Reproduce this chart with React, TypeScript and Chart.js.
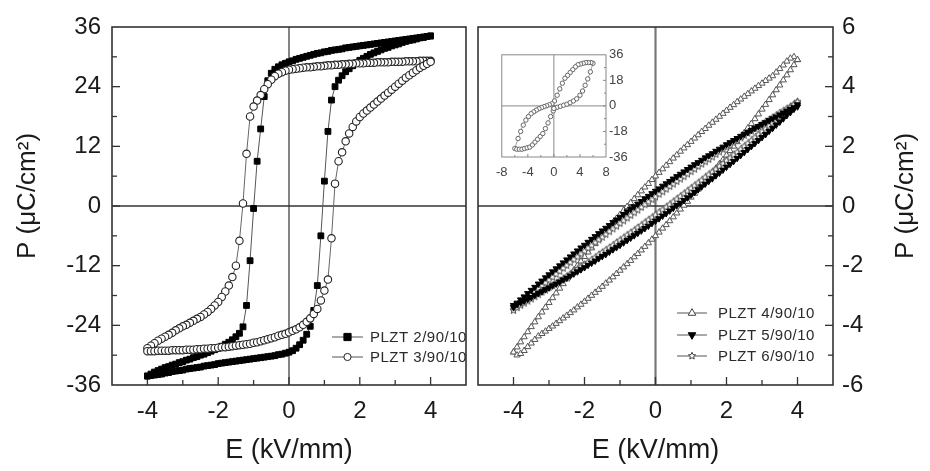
import React, { useEffect, useRef } from 'react';
import { Chart, registerables } from 'chart.js';

Chart.register(...registerables);

const FONT = '"Liberation Sans", Arial, Helvetica, sans-serif';
const INK = '#1a1a1a';

// ---------- shared field sweeps (kV/mm) ----------
const E_DOWN = [4.0, 3.9, 3.8, 3.7, 3.6, 3.5, 3.4, 3.3, 3.2, 3.1,
  3.0, 2.9, 2.8, 2.7, 2.6, 2.5, 2.4, 2.3, 2.2, 2.1,
  2.0, 1.9, 1.8, 1.7, 1.6, 1.5, 1.4, 1.3, 1.2, 1.1,
  1.0, 0.9, 0.8, 0.7, 0.6, 0.5, 0.4, 0.3, 0.2, 0.1,
  0.0, -0.1, -0.2, -0.3, -0.4, -0.5, -0.6, -0.7, -0.8, -0.9,
  -1.0, -1.1, -1.2, -1.3, -1.4, -1.5, -1.6, -1.7, -1.8, -1.9,
  -2.0, -2.1, -2.2, -2.3, -2.4, -2.5, -2.6, -2.7, -2.8, -2.9,
  -3.0, -3.1, -3.2, -3.3, -3.4, -3.5, -3.6, -3.7, -3.8, -3.9,
  -4.0];
const E_UP = [-4.0, -3.9, -3.8, -3.7, -3.6, -3.5, -3.4, -3.3, -3.2, -3.1,
  -3.0, -2.9, -2.8, -2.7, -2.6, -2.5, -2.4, -2.3, -2.2, -2.1,
  -2.0, -1.9, -1.8, -1.7, -1.6, -1.5, -1.4, -1.3, -1.2, -1.1,
  -1.0, -0.9, -0.8, -0.7, -0.6, -0.5, -0.4, -0.3, -0.2, -0.1,
  0.0, 0.1, 0.2, 0.3, 0.4, 0.5, 0.6, 0.7, 0.8, 0.9,
  1.0, 1.1, 1.2, 1.3, 1.4, 1.5, 1.6, 1.7, 1.8, 1.9,
  2.0, 2.1, 2.2, 2.3, 2.4, 2.5, 2.6, 2.7, 2.8, 2.9,
  3.0, 3.1, 3.2, 3.3, 3.4, 3.5, 3.6, 3.7, 3.8, 3.9,
  4.0];

// ---------- left panel: P (uC/cm2) ----------
const PLZT2_DOWN = [34.2, 34.1, 34.0, 33.9, 33.8, 33.7, 33.6, 33.5, 33.4, 33.3,
  33.2, 33.1, 33.0, 32.9, 32.8, 32.7, 32.6, 32.5, 32.4, 32.3,
  32.2, 32.1, 32.0, 31.9, 31.8, 31.6, 31.5, 31.4, 31.3, 31.1,
  31.0, 30.8, 30.7, 30.5, 30.3, 30.1, 29.9, 29.7, 29.5, 29.2,
  29.0, 28.7, 28.4, 28.0, 27.5, 26.7, 25.2, 22.0, 15.5, 9.0,
  -0.5, -11.0, -20.0, -24.3, -25.6, -26.3, -26.9, -27.4, -27.8, -28.2,
  -28.6, -28.9, -29.2, -29.5, -29.8, -30.0, -30.3, -30.5, -30.8, -31.0,
  -31.3, -31.5, -31.8, -32.0, -32.3, -32.5, -32.8, -33.1, -33.4, -33.8,
  -34.2];
const PLZT2_UP = [-34.2, -34.1, -34.0, -33.9, -33.8, -33.6, -33.5, -33.3, -33.2, -33.1,
  -33.0, -32.8, -32.7, -32.6, -32.5, -32.4, -32.2, -32.1, -32.0, -31.9,
  -31.7, -31.6, -31.5, -31.4, -31.3, -31.2, -31.1, -31.0, -30.9, -30.8,
  -30.7, -30.6, -30.5, -30.4, -30.3, -30.2, -30.1, -29.9, -29.8, -29.6,
  -29.4, -29.1, -28.6, -27.9, -27.0, -25.8, -24.2, -21.0, -16.0, -6.0,
  5.0, 15.0, 21.3, 24.0, 25.3, 26.2, 27.0, 27.6, 28.2, 28.8,
  29.3, 29.7, 30.1, 30.5, 30.8, 31.1, 31.4, 31.7, 31.9, 32.2,
  32.4, 32.6, 32.9, 33.1, 33.3, 33.4, 33.6, 33.8, 33.9, 34.1,
  34.2];
const PLZT3_DOWN = [29.2, 29.2, 29.2, 29.2, 29.1, 29.1, 29.1, 29.1, 29.0, 29.0,
  29.0, 29.0, 28.9, 28.9, 28.9, 28.9, 28.8, 28.8, 28.8, 28.7,
  28.7, 28.7, 28.6, 28.6, 28.5, 28.5, 28.4, 28.4, 28.3, 28.3,
  28.2, 28.1, 28.1, 28.0, 27.9, 27.9, 27.8, 27.7, 27.6, 27.5,
  27.4, 27.2, 26.9, 26.6, 26.1, 25.4, 24.5, 23.5, 22.3, 21.2,
  20.0, 18.0, 10.5, 0.5, -7.0, -12.0, -14.3, -16.0, -17.2, -18.3,
  -19.3, -20.0, -20.7, -21.3, -21.8, -22.3, -22.7, -23.1, -23.5, -23.9,
  -24.2, -24.6, -25.0, -25.5, -25.9, -26.3, -26.7, -27.1, -27.6, -28.1,
  -28.6];
const PLZT3_UP = [-29.2, -29.2, -29.2, -29.1, -29.1, -29.1, -29.1, -29.0, -29.0, -29.0,
  -29.0, -28.9, -28.9, -28.9, -28.8, -28.8, -28.7, -28.7, -28.6, -28.6,
  -28.5, -28.4, -28.4, -28.3, -28.2, -28.1, -28.0, -27.9, -27.8, -27.7,
  -27.5, -27.4, -27.2, -27.0, -26.8, -26.6, -26.4, -26.1, -25.9, -25.7,
  -25.4, -25.1, -24.8, -24.4, -23.9, -23.3, -22.6, -21.7, -20.7, -19.0,
  -17.0, -14.8, -6.5, 4.5, 9.0, 10.8, 13.0, 14.6, 15.9, 17.0,
  17.9, 18.6, 19.2, 19.8, 20.4, 21.0, 21.6, 22.2, 22.8, 23.4,
  24.0, 24.6, 25.2, 25.8, 26.3, 26.8, 27.3, 27.8, 28.2, 28.6,
  29.0];

// ---------- right panel: P (uC/cm2) ----------
const PLZT4_DOWN = [4.90, 5.00, 4.95, 4.85, 4.72, 4.60, 4.48, 4.36, 4.28, 4.20,
  4.11, 4.03, 3.94, 3.85, 3.76, 3.67, 3.58, 3.49, 3.39, 3.30,
  3.20, 3.10, 3.00, 2.90, 2.80, 2.70, 2.59, 2.49, 2.38, 2.27,
  2.16, 2.05, 1.94, 1.83, 1.71, 1.60, 1.48, 1.36, 1.24, 1.12,
  1.00, 0.88, 0.75, 0.63, 0.50, 0.37, 0.24, 0.11, -0.02, -0.15,
  -0.29, -0.42, -0.56, -0.70, -0.84, -0.98, -1.12, -1.26, -1.41, -1.55,
  -1.70, -1.85, -2.00, -2.15, -2.30, -2.45, -2.61, -2.76, -2.92, -3.08,
  -3.24, -3.40, -3.56, -3.72, -3.89, -4.05, -4.22, -4.39, -4.56, -4.73,
  -4.90];
const PLZT4_UP = [-4.90, -5.00, -4.95, -4.85, -4.72, -4.60, -4.48, -4.36, -4.28, -4.20,
  -4.11, -4.03, -3.94, -3.85, -3.76, -3.67, -3.58, -3.49, -3.39, -3.30,
  -3.20, -3.10, -3.00, -2.90, -2.80, -2.70, -2.59, -2.49, -2.38, -2.27,
  -2.16, -2.05, -1.94, -1.83, -1.71, -1.60, -1.48, -1.36, -1.24, -1.12,
  -1.00, -0.88, -0.75, -0.63, -0.50, -0.37, -0.24, -0.11, 0.02, 0.15,
  0.29, 0.42, 0.56, 0.70, 0.84, 0.98, 1.12, 1.26, 1.41, 1.55,
  1.70, 1.85, 2.00, 2.15, 2.30, 2.45, 2.61, 2.76, 2.92, 3.08,
  3.24, 3.40, 3.56, 3.72, 3.89, 4.05, 4.22, 4.39, 4.56, 4.73,
  4.90];
const PLZT5_DOWN = [3.40, 3.30, 3.24, 3.18, 3.12, 3.06, 2.99, 2.93, 2.87, 2.80,
  2.74, 2.67, 2.61, 2.54, 2.47, 2.41, 2.34, 2.27, 2.20, 2.13,
  2.06, 1.98, 1.91, 1.84, 1.76, 1.69, 1.62, 1.54, 1.46, 1.39,
  1.31, 1.23, 1.15, 1.07, 0.99, 0.91, 0.83, 0.75, 0.67, 0.58,
  0.50, 0.42, 0.33, 0.25, 0.16, 0.07, -0.02, -0.10, -0.19, -0.28,
  -0.37, -0.46, -0.55, -0.65, -0.74, -0.83, -0.92, -1.02, -1.11, -1.21,
  -1.31, -1.40, -1.50, -1.60, -1.70, -1.80, -1.90, -2.00, -2.10, -2.20,
  -2.30, -2.40, -2.51, -2.61, -2.72, -2.82, -2.93, -3.04, -3.14, -3.25,
  -3.33];
const PLZT5_UP = [-3.40, -3.30, -3.24, -3.18, -3.12, -3.06, -2.99, -2.93, -2.87, -2.80,
  -2.74, -2.67, -2.61, -2.54, -2.47, -2.41, -2.34, -2.27, -2.20, -2.13,
  -2.06, -1.98, -1.91, -1.84, -1.76, -1.69, -1.62, -1.54, -1.46, -1.39,
  -1.31, -1.23, -1.15, -1.07, -0.99, -0.91, -0.83, -0.75, -0.67, -0.58,
  -0.50, -0.42, -0.33, -0.25, -0.16, -0.07, 0.02, 0.10, 0.19, 0.28,
  0.37, 0.46, 0.55, 0.65, 0.74, 0.83, 0.92, 1.02, 1.11, 1.21,
  1.31, 1.40, 1.50, 1.60, 1.70, 1.80, 1.90, 2.00, 2.10, 2.20,
  2.30, 2.40, 2.51, 2.61, 2.72, 2.82, 2.93, 3.04, 3.14, 3.25,
  3.33];
const PLZT6_DOWN = [3.50, 3.41, 3.33, 3.26, 3.19, 3.12, 3.04, 2.97, 2.89, 2.82,
  2.74, 2.67, 2.59, 2.51, 2.44, 2.36, 2.28, 2.20, 2.12, 2.04,
  1.97, 1.89, 1.81, 1.73, 1.64, 1.56, 1.48, 1.40, 1.32, 1.23,
  1.15, 1.07, 0.98, 0.90, 0.82, 0.73, 0.65, 0.56, 0.47, 0.39,
  0.30, 0.21, 0.13, 0.04, -0.05, -0.14, -0.23, -0.32, -0.41, -0.50,
  -0.59, -0.68, -0.77, -0.86, -0.96, -1.05, -1.14, -1.23, -1.33, -1.42,
  -1.52, -1.61, -1.71, -1.80, -1.90, -2.00, -2.09, -2.19, -2.29, -2.39,
  -2.49, -2.58, -2.68, -2.78, -2.88, -2.98, -3.09, -3.19, -3.29, -3.39,
  -3.48];
const PLZT6_UP = [-3.50, -3.41, -3.33, -3.26, -3.19, -3.12, -3.04, -2.97, -2.89, -2.82,
  -2.74, -2.67, -2.59, -2.51, -2.44, -2.36, -2.28, -2.20, -2.12, -2.04,
  -1.97, -1.89, -1.81, -1.73, -1.64, -1.56, -1.48, -1.40, -1.32, -1.23,
  -1.15, -1.07, -0.98, -0.90, -0.82, -0.73, -0.65, -0.56, -0.47, -0.39,
  -0.30, -0.21, -0.13, -0.04, 0.05, 0.14, 0.23, 0.32, 0.41, 0.50,
  0.59, 0.68, 0.77, 0.86, 0.96, 1.05, 1.14, 1.23, 1.33, 1.42,
  1.52, 1.61, 1.71, 1.80, 1.90, 2.00, 2.09, 2.19, 2.29, 2.39,
  2.49, 2.58, 2.68, 2.78, 2.88, 2.98, 3.09, 3.19, 3.29, 3.39,
  3.48];

// ---------- inset (double loop) ----------
const INSET_E = [0, 0.5, 1, 1.5, 2, 2.5, 3, 3.5, 4, 4.4, 4.8, 5.2, 5.6, 6,
  5.7, 5.3, 4.9, 4.5, 4.1, 3.7, 3.3, 2.9, 2.5, 2.1,
  1.7, 1.3, 0.9, 0.5, 0.1, -0.3, -0.7, -1.1, -1.5, -1.9,
  -2.3, -2.7, -3.1, -3.5, -3.9, -4.3, -4.7, -5.1, -5.5, -6,
  -5.7, -5.3, -4.9, -4.5, -4.1, -3.7, -3.3, -2.9, -2.5, -2.1,
  -1.7, -1.3, -0.9, -0.5, -0.1, 0];
const INSET_P = [-1.5, -1.0, -0.3, 0.5, 1.2, 2.3, 3.5, 5.0, 7.5, 10.5, 14.5, 19, 24, 30,
  30.5, 30.5, 30.5, 30, 29.5, 29, 27.5, 25.5, 23.5, 21.5,
  19.5, 16, 12, 7.5, 3.5, 1.5, 0.8, 0.1, -0.5, -1.2,
  -2.0, -3.0, -4.2, -5.5, -7.5, -10, -13.5, -18, -23, -30,
  -30.5, -30.5, -30.5, -30, -29.5, -29, -27.5, -25.5, -23.5, -21.5,
  -19.5, -16, -12, -7.5, -3.5, -1.8];

const LEFT_LABELS = ['PLZT 2/90/10', 'PLZT 3/90/10'];
const RIGHT_LABELS = ['PLZT 4/90/10', 'PLZT 5/90/10', 'PLZT 6/90/10'];
const AXIS_X_TITLE = 'E (kV/mm)';
const AXIS_Y_TITLE = 'P (\u03bcC/cm\u00b2)';

type Pt = { x: number; y: number };
function loop(eA: number[], pA: number[], eB: number[], pB: number[]): Pt[] {
  const pts: Pt[] = [];
  eA.forEach((e, i) => pts.push({ x: e, y: pA[i] }));
  eB.forEach((e, i) => pts.push({ x: e, y: pB[i] }));
  return pts;
}
function pairs(e: number[], p: number[]): Pt[] {
  return e.map((v, i) => ({ x: v, y: p[i] }));
}

type MarkerKind = 'rect' | 'circle' | 'triangle' | 'triangleDown' | 'star';
function markerPath(ctx: CanvasRenderingContext2D, kind: MarkerKind, x: number, y: number, r: number) {
  ctx.beginPath();
  if (kind === 'rect') ctx.rect(x - r, y - r, 2 * r, 2 * r);
  else if (kind === 'circle') ctx.arc(x, y, r, 0, Math.PI * 2);
  else if (kind === 'triangle') {
    ctx.moveTo(x, y - r * 1.15); ctx.lineTo(x + r, y + r * 0.6); ctx.lineTo(x - r, y + r * 0.6); ctx.closePath();
  } else if (kind === 'triangleDown') {
    ctx.moveTo(x, y + r * 1.15); ctx.lineTo(x + r, y - r * 0.6); ctx.lineTo(x - r, y - r * 0.6); ctx.closePath();
  } else {
    for (let k = 0; k < 10; k++) {
      const ang = -Math.PI / 2 + (k * Math.PI) / 5;
      const rr = k % 2 === 0 ? r : r * 0.45;
      const px = x + rr * Math.cos(ang), py = y + rr * Math.sin(ang);
      if (k === 0) ctx.moveTo(px, py); else ctx.lineTo(px, py);
    }
    ctx.closePath();
  }
}
function drawMarker(ctx: CanvasRenderingContext2D, kind: MarkerKind, x: number, y: number, r: number,
  fill: string | null, stroke: string | null, lw = 1) {
  ctx.save();
  markerPath(ctx, kind, x, y, r);
  if (fill) { ctx.fillStyle = fill; ctx.fill(); }
  if (stroke) { ctx.strokeStyle = stroke; ctx.lineWidth = lw; ctx.stroke(); }
  ctx.restore();
}
function starImage(r: number, color: string): HTMLCanvasElement {
  const c = document.createElement('canvas');
  const s = Math.ceil(2 * r + 3);
  c.width = s; c.height = s;
  const g = c.getContext('2d')!;
  drawMarker(g, 'star', s / 2, s / 2, r, '#fff', color, 1);
  return c;
}

interface FrameCfg {
  frameColor: string; frameWidth: number;
  zeroVColor: string; zeroVWidth: number; zeroHColor: string; zeroHWidth: number;
  xMajor: number; xMinor: number; yMajor: number; yMinor: number;
  ySide: 'left' | 'right'; majorLen: number; minorLen: number; tickColor: string; tickWidth: number;
}
function framePlugin(cfg: FrameCfg) {
  return {
    id: 'frameTicks',
    beforeDatasetsDraw(chart: any) {
      const { ctx, chartArea: a } = chart;
      const xs = chart.scales.x, ys = chart.scales.y;
      ctx.save();
      const zx = xs.getPixelForValue(0), zy = ys.getPixelForValue(0);
      ctx.strokeStyle = cfg.zeroVColor; ctx.lineWidth = cfg.zeroVWidth;
      ctx.beginPath(); ctx.moveTo(zx, a.top); ctx.lineTo(zx, a.bottom); ctx.stroke();
      ctx.strokeStyle = cfg.zeroHColor; ctx.lineWidth = cfg.zeroHWidth;
      ctx.beginPath(); ctx.moveTo(a.left, zy); ctx.lineTo(a.right, zy); ctx.stroke();
      ctx.strokeStyle = cfg.tickColor; ctx.lineWidth = cfg.tickWidth;
      const isMajor = (v: number, m: number) => Math.abs(v / m - Math.round(v / m)) < 1e-6;
      for (let k = 1; ; k++) {
        const v = xs.min + k * cfg.xMinor;
        if (v >= xs.max - 1e-9) break;
        const len = isMajor(v, cfg.xMajor) ? cfg.majorLen : cfg.minorLen;
        const px = xs.getPixelForValue(v);
        ctx.beginPath(); ctx.moveTo(px, a.bottom); ctx.lineTo(px, a.bottom - len); ctx.stroke();
      }
      for (let k = 1; ; k++) {
        const v = ys.min + k * cfg.yMinor;
        if (v >= ys.max - 1e-9) break;
        const len = isMajor(v, cfg.yMajor) ? cfg.majorLen : cfg.minorLen;
        const py = ys.getPixelForValue(v);
        const sx = cfg.ySide === 'left' ? a.left : a.right;
        const dir = cfg.ySide === 'left' ? 1 : -1;
        ctx.beginPath(); ctx.moveTo(sx, py); ctx.lineTo(sx + dir * len, py); ctx.stroke();
      }
      ctx.strokeStyle = cfg.frameColor; ctx.lineWidth = cfg.frameWidth;
      ctx.strokeRect(a.left, a.top, a.right - a.left, a.bottom - a.top);
      ctx.restore();
    },
  };
}

interface LegendItem { label: string; kind: MarkerKind; r: number; fill: string | null; stroke: string }
function legendPlugin(items: LegendItem[], x0: number, x1: number, tx: number, ys: number[]) {
  return {
    id: 'customLegend',
    afterDraw(chart: any) {
      const ctx: CanvasRenderingContext2D = chart.ctx;
      ctx.save();
      ctx.font = `15px ${FONT}`;
      ctx.textBaseline = 'middle';
      ctx.textAlign = 'left';
      (ctx as any).letterSpacing = '0.5px';
      items.forEach((it, i) => {
        const y = ys[i];
        ctx.strokeStyle = '#555'; ctx.lineWidth = 1;
        ctx.beginPath(); ctx.moveTo(x0, y); ctx.lineTo(x1, y); ctx.stroke();
        drawMarker(ctx, it.kind, (x0 + x1) / 2, y, it.r, it.fill, it.stroke, 1);
        ctx.fillStyle = '#2a2a2a';
        ctx.fillText(it.label, tx, y + 0.5);
      });
      ctx.restore();
    },
  };
}

function rotatedTitle(text: string, x: number, y: number, size: number) {
  return {
    id: 'rotTitle',
    afterDraw(chart: any) {
      const ctx: CanvasRenderingContext2D = chart.ctx;
      ctx.save();
      ctx.translate(x, y);
      ctx.rotate(-Math.PI / 2);
      ctx.font = `${size}px ${FONT}`;
      ctx.fillStyle = INK;
      ctx.textAlign = 'center';
      ctx.textBaseline = 'middle';
      ctx.fillText(text, 0, 0);
      ctx.restore();
    },
  };
}

const tickFont = { family: FONT, size: 24 };
const titleFont = { family: FONT, size: 27 };
const noGrid = { display: false, drawTicks: false, tickLength: 0 };
const labelEvery = (m: number) => (v: any) => {
  const n = Number(v);
  return Math.abs(n / m - Math.round(n / m)) < 1e-6 ? String(Math.round(n)) : '';
};

function baseOptions(pad: any) {
  return {
    responsive: false,
    animation: false as const,
    events: [] as any[],
    layout: { padding: pad },
    plugins: { legend: { display: false }, tooltip: { enabled: false } },
  };
}

export default function App() {
  const leftRef = useRef<HTMLCanvasElement>(null);
  const rightRef = useRef<HTMLCanvasElement>(null);
  const insetRef = useRef<HTMLCanvasElement>(null);

  useEffect(() => {
    const charts: Chart[] = [];
    const star = starImage(3.7, '#555');

    const left = new Chart(leftRef.current!, {
      type: 'scatter',
      data: {
        datasets: [
          {
            label: LEFT_LABELS[0], data: loop(E_DOWN, PLZT2_DOWN, E_UP, PLZT2_UP), showLine: true,
            borderColor: '#555', borderWidth: 1, pointStyle: 'rect', pointRadius: 4.1,
            pointBackgroundColor: '#000', pointBorderColor: '#000', pointBorderWidth: 1, order: 1,
          },
          {
            label: LEFT_LABELS[1], data: loop(E_DOWN, PLZT3_DOWN, E_UP, PLZT3_UP), showLine: true,
            borderColor: '#666', borderWidth: 1, pointStyle: 'circle', pointRadius: 3.7,
            pointBackgroundColor: '#fff', pointBorderColor: '#222', pointBorderWidth: 1.1, order: 0,
          },
        ],
      },
      options: {
        ...baseOptions({ top: 27, right: 6, left: 0, bottom: 0 }),
        scales: {
          x: {
            type: 'linear', position: 'bottom', min: -5, max: 5,
            grid: noGrid, border: { display: false },
            ticks: { stepSize: 1, autoSkip: false, maxRotation: 0, padding: 12, color: INK, font: tickFont, callback: labelEvery(2) },
            title: { display: true, text: AXIS_X_TITLE, color: INK, font: titleFont, padding: { top: 0, bottom: 4 } },
            afterFit: (s: any) => { s.height = 86; },
          },
          y: {
            type: 'linear', position: 'left', min: -36, max: 36,
            grid: noGrid, border: { display: false },
            ticks: { stepSize: 6, autoSkip: false, padding: 11, color: INK, font: tickFont, callback: labelEvery(12) },
            afterFit: (s: any) => { s.width = 112; },
          },
        },
      } as any,
      plugins: [
        framePlugin({
          frameColor: '#333', frameWidth: 1.6, zeroVColor: '#333', zeroVWidth: 1.2, zeroHColor: '#333', zeroHWidth: 1.3,
          xMajor: 2, xMinor: 1, yMajor: 12, yMinor: 6, ySide: 'left', majorLen: 8, minorLen: 5, tickColor: '#333', tickWidth: 1.3,
        }),
        legendPlugin([
          { label: LEFT_LABELS[0], kind: 'rect', r: 3.6, fill: '#000', stroke: '#000' },
          { label: LEFT_LABELS[1], kind: 'circle', r: 3.6, fill: '#fff', stroke: '#222' },
        ], 332, 363, 370, [337, 357]),
        rotatedTitle(AXIS_Y_TITLE, 28, 196, 26),
      ],
    } as any);
    charts.push(left);

    const right = new Chart(rightRef.current!, {
      type: 'scatter',
      data: {
        datasets: [
          {
            label: RIGHT_LABELS[0], data: loop(E_DOWN, PLZT4_DOWN, E_UP, PLZT4_UP), showLine: true,
            borderColor: '#888', borderWidth: 1, pointStyle: 'triangle', pointRadius: 3.6,
            pointBackgroundColor: '#fff', pointBorderColor: '#555', pointBorderWidth: 1, order: 2,
          },
          {
            label: RIGHT_LABELS[1], data: loop(E_DOWN, PLZT5_DOWN, E_UP, PLZT5_UP), showLine: true,
            borderColor: '#222', borderWidth: 1, pointStyle: 'triangle', pointRotation: 180, pointRadius: 3.6,
            pointBackgroundColor: '#000', pointBorderColor: '#000', pointBorderWidth: 1, order: 0,
          },
          {
            label: RIGHT_LABELS[2], data: loop(E_DOWN, PLZT6_DOWN, E_UP, PLZT6_UP), showLine: true,
            borderColor: '#888', borderWidth: 1, pointStyle: star, pointRadius: 3.7,
            pointBackgroundColor: '#fff', pointBorderColor: '#555', pointBorderWidth: 1, order: 1,
          },
        ],
      },
      options: {
        ...baseOptions({ top: 27, right: 0, left: 6, bottom: 0 }),
        scales: {
          x: {
            type: 'linear', position: 'bottom', min: -5, max: 5,
            grid: noGrid, border: { display: false },
            ticks: { stepSize: 1, autoSkip: false, maxRotation: 0, padding: 12, color: INK, font: tickFont, callback: labelEvery(2) },
            title: { display: true, text: AXIS_X_TITLE, color: INK, font: titleFont, padding: { top: 0, bottom: 4 } },
            afterFit: (s: any) => { s.height = 86; },
          },
          y: {
            type: 'linear', position: 'right', min: -6, max: 6,
            grid: noGrid, border: { display: false },
            ticks: { stepSize: 1, autoSkip: false, padding: 9, color: INK, font: tickFont, callback: labelEvery(2) },
            afterFit: (s: any) => { s.width = 97; },
          },
        },
      } as any,
      plugins: [
        framePlugin({
          frameColor: '#333', frameWidth: 1.6, zeroVColor: '#777', zeroVWidth: 2.2, zeroHColor: '#333', zeroHWidth: 1.3,
          xMajor: 2, xMinor: 1, yMajor: 2, yMinor: 1, ySide: 'right', majorLen: 8, minorLen: 5, tickColor: '#333', tickWidth: 1.3,
        }),
        legendPlugin([
          { label: RIGHT_LABELS[0], kind: 'triangle', r: 3.8, fill: '#fff', stroke: '#444' },
          { label: RIGHT_LABELS[1], kind: 'triangleDown', r: 3.8, fill: '#000', stroke: '#000' },
          { label: RIGHT_LABELS[2], kind: 'star', r: 3.8, fill: '#fff', stroke: '#444' },
        ], 211, 241, 252, [313, 335, 356]),
        rotatedTitle(AXIS_Y_TITLE, 440, 196, 26),
      ],
    } as any);
    charts.push(right);

    const inset = new Chart(insetRef.current!, {
      type: 'scatter',
      data: {
        datasets: [
          {
            label: 'inset', data: pairs(INSET_E, INSET_P), showLine: true,
            borderColor: '#999', borderWidth: 0.9, pointStyle: 'circle', pointRadius: 2.2,
            pointBackgroundColor: '#fff', pointBorderColor: '#666', pointBorderWidth: 1,
          },
        ],
      },
      options: {
        ...baseOptions({ top: 9, right: 0, left: 9, bottom: 0 }),
        scales: {
          x: {
            type: 'linear', position: 'bottom', min: -8, max: 8,
            grid: noGrid, border: { display: false },
            ticks: { stepSize: 2, autoSkip: false, maxRotation: 0, padding: 8, color: '#444', font: { family: FONT, size: 13 }, callback: labelEvery(4) },
            afterFit: (s: any) => { s.height = 27; },
          },
          y: {
            type: 'linear', position: 'right', min: -36, max: 36,
            grid: noGrid, border: { display: false },
            ticks: { stepSize: 9, autoSkip: false, padding: 3, color: '#444', font: { family: FONT, size: 13 }, callback: labelEvery(18) },
            afterFit: (s: any) => { s.width = 32; },
          },
        },
      } as any,
      plugins: [
        framePlugin({
          frameColor: '#888', frameWidth: 1, zeroVColor: '#888', zeroVWidth: 1, zeroHColor: '#888', zeroHWidth: 1,
          xMajor: 4, xMinor: 2, yMajor: 18, yMinor: 9, ySide: 'right', majorLen: 3, minorLen: 2, tickColor: '#888', tickWidth: 1,
        }),
      ],
    } as any);
    charts.push(inset);

    return () => charts.forEach((c) => c.destroy());
  }, []);

  return (
    <div style={{ position: 'absolute', left: 0, top: 0, width: 930, height: 471, background: '#fff', overflow: 'hidden' }}>
      <canvas ref={leftRef} width={478} height={471} style={{ position: 'absolute', left: 0, top: 0, width: 478, height: 471 }} />
      <canvas ref={rightRef} width={464} height={471} style={{ position: 'absolute', left: 466, top: 0, width: 464, height: 471 }} />
      <canvas ref={insetRef} width={150} height={140} style={{ position: 'absolute', left: 488, top: 44, width: 150, height: 140 }} />
    </div>
  );
}
